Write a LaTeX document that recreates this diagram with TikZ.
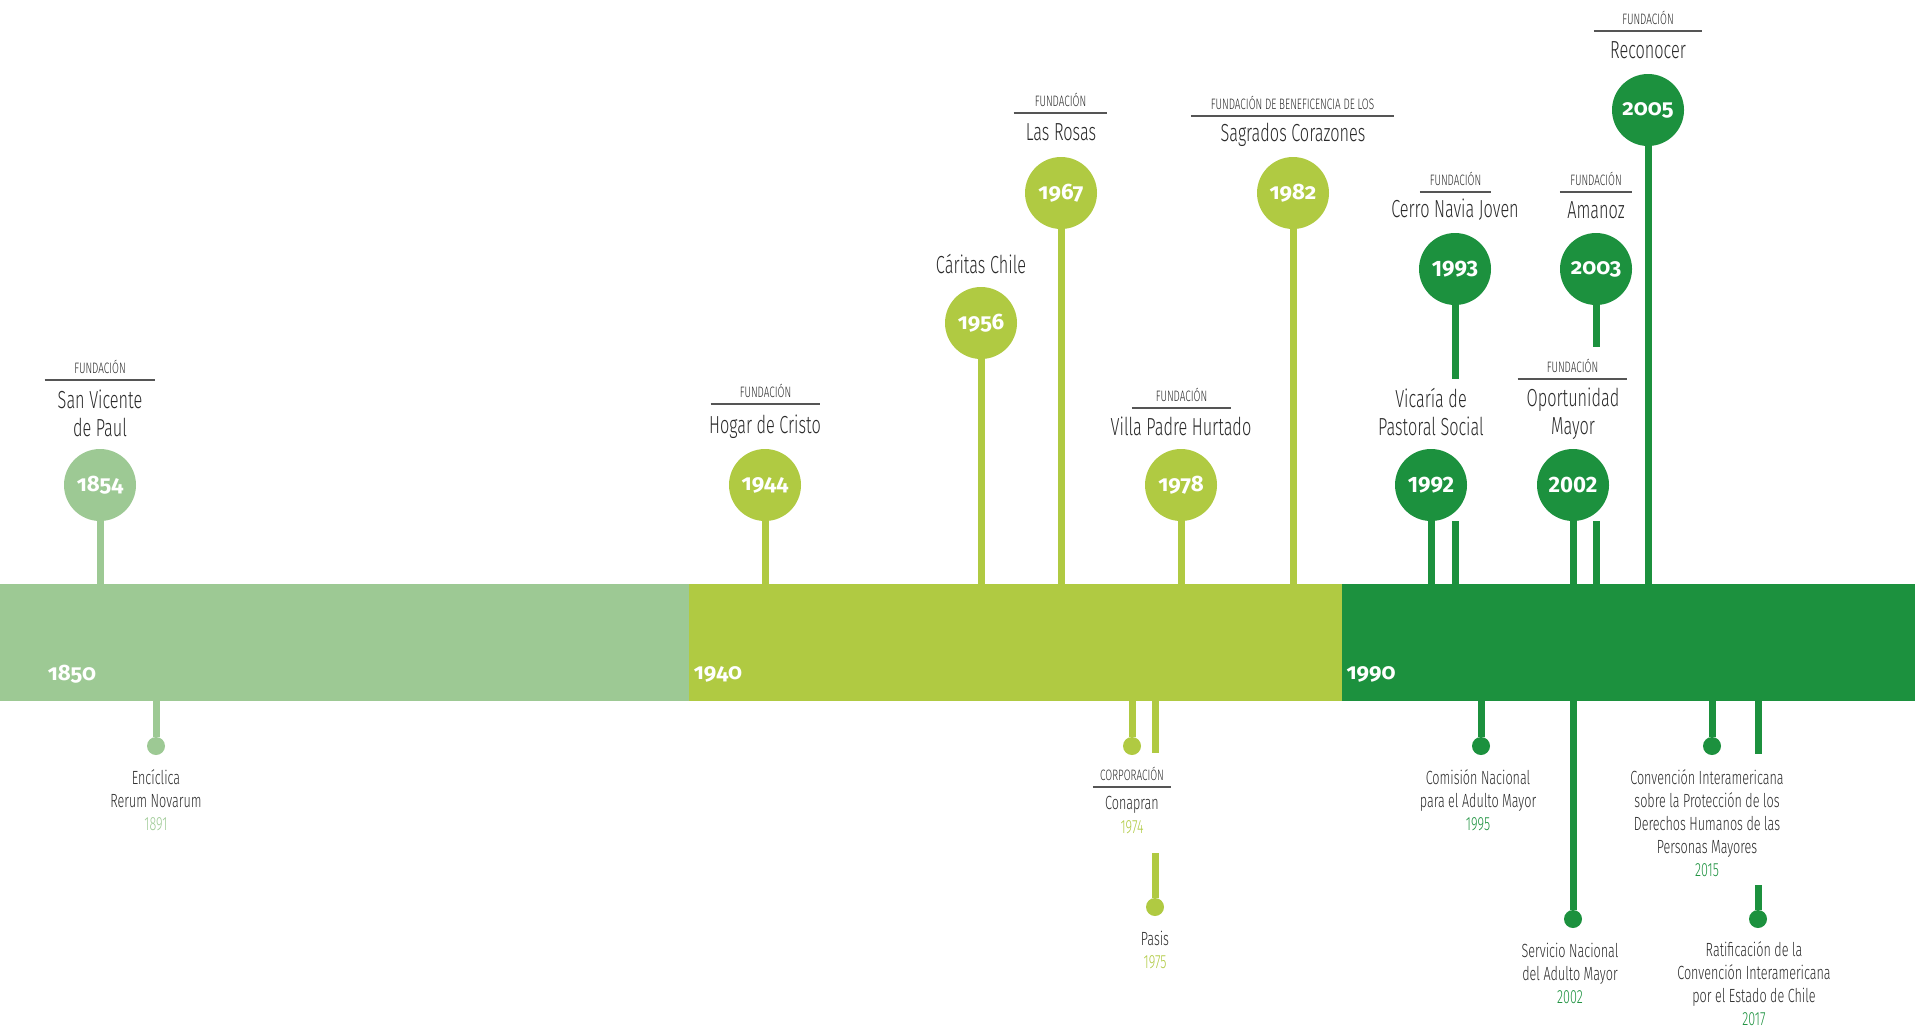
\documentclass[tikz,border=0pt]{standalone}
\usepackage{fontspec}
\usepackage{xcolor}
\setmainfont{Fira Sans}[UprightFont=* Light, BoldFont=* Bold, FakeStretch=0.66]
\newfontfamily\yrfont{Fira Sans Bold}[Numbers=OldStyle]
\newfontfamily\yrlfont{Fira Sans Bold}
\usetikzlibrary{calc}

\definecolor{cA}{HTML}{9DC994}
\definecolor{cB}{HTML}{B0CA42}
\definecolor{cC}{HTML}{1C913E}
\definecolor{ink}{HTML}{2A2A2A}
\definecolor{rulec}{HTML}{555555}

\begin{document}
\begin{tikzpicture}[x=0.75pt,y=-0.75pt]
    \tikzstyle{disc}=[circle,minimum size=54pt,inner sep=0,text=white,font=\yrfont\fontsize{16.7}{16.7}\selectfont]
    \tikzstyle{discl}=[disc,font=\yrlfont\fontsize{16.7}{16.7}\selectfont]
    \tikzstyle{era}=[inner sep=0,text=white,font=\yrfont\fontsize{16.7}{16.7}\selectfont]
    \tikzstyle{stem}=[line width=5.25pt]
    \tikzstyle{dot}=[circle,minimum size=13.5pt,inner sep=0]
    \tikzstyle{kick}=[anchor=south,inner xsep=0,inner ysep=4.5pt,text depth=0pt,text=ink,font=\fontsize{11.3}{12}\selectfont]
    \tikzstyle{rule}=[draw=rulec,line width=1.1pt]
    \tikzstyle{ttl}=[inner sep=0,align=center,text=ink,font=\fontsize{18.5}{21}\selectfont]
    \tikzstyle{note}=[inner sep=0,align=center,text=ink,font=\fontsize{14.3}{17.3}\selectfont]

    \useasboundingbox (0,0) rectangle (1915,1028);

    % band
    \fill[cA] (0,584) rectangle (689,701);
    \fill[cB] (689,584) rectangle (1342,701);
    \fill[cC] (1342,584) rectangle (1915,701);
    \coordinate (bt) at (0,584);
    \coordinate (bb) at (0,701);

    \node[era] (e1850) at (72,674) {1850};
    \node[era] (e1940) at (718,674) {1940};
    \node[era] (e1990) at (1371,674) {1990};

    % above the band
    \node[disc,fill=cA] (y1854) at (100,485) {1854};
    \node[disc,fill=cB] (y1944) at (765,485) {1944};
    \node[disc,fill=cB] (y1956) at (981,323) {1956};
    \node[disc,fill=cB] (y1967) at (1061,193) {1967};
    \node[disc,fill=cB] (y1978) at (1181,485) {1978};
    \node[disc,fill=cB] (y1982) at (1293,193) {1982};
    \node[discl,fill=cC] (y1993) at (1455,269) {1993};
    \node[discl,fill=cC] (y1992) at (1431,485) {1992};
    \node[discl,fill=cC] (y2002) at (1573,485) {2002};
    \node[disc,fill=cC] (y2003) at (1596,269) {2003};
    \node[disc,fill=cC] (y2005) at (1648,110) {2005};

    \draw[stem,cA] (y1854) -- (y1854 |- bt);
    \draw[stem,cB] (y1944) -- (y1944 |- bt);
    \draw[stem,cB] (y1956) -- (y1956 |- bt);
    \draw[stem,cB] (y1967) -- (y1967 |- bt);
    \draw[stem,cB] (y1978) -- (y1978 |- bt);
    \draw[stem,cB] (y1982) -- (y1982 |- bt);
    \draw[stem,cC] (y1992) -- (y1992 |- bt);
    \draw[stem,cC] (y2002) -- (y2002 |- bt);
    \draw[stem,cC] (y2005) -- (y2005 |- bt);
    \coordinate (g1993a) at (1455,379);
    \coordinate (g1993b) at (1455,521);
    \draw[stem,cC] (y1993) -- (g1993a);
    \draw[stem,cC] (g1993b) -- (g1993b |- bt);
    \coordinate (g2003a) at (1596,347);
    \coordinate (g2003b) at (1596,521);
    \draw[stem,cC] (y2003) -- (g2003a);
    \draw[stem,cC] (g2003b) -- (g2003b |- bt);

    \node[kick,minimum width=82.5pt] (k1854) at (100,380) {FUNDACIÓN};
    \node[kick,minimum width=82pt] (k1944) at (765.5,404) {FUNDACIÓN};
    \node[kick,minimum width=70pt] (k1967) at (1060.5,113) {FUNDACIÓN};
    \node[kick,minimum width=74pt] (k1978) at (1181.5,408) {FUNDACIÓN};
    \node[kick,minimum width=152pt] (k1982) at (1292.5,116) {FUNDACIÓN DE BENEFICENCIA DE LOS};
    \node[kick,minimum width=53pt] (k1993) at (1455.5,192) {FUNDACIÓN};
    \node[kick,minimum width=82pt] (k2002) at (1572.5,379) {FUNDACIÓN};
    \node[kick,minimum width=54pt] (k2003) at (1596,192) {FUNDACIÓN};
    \node[kick,minimum width=81pt] (k2005) at (1648,31) {FUNDACIÓN};
    \foreach \k in {k1854,k1944,k1967,k1978,k1982,k1993,k2002,k2003,k2005}
      \draw[rule] (\k.south west) -- (\k.south east);

    \node[ttl] (t1854) at (100,413) {San Vicente\\de Paul};
    \node[ttl] (t1944) at (765,427) {Hogar de Cristo};
    \node[ttl] (t1956) at (981,264) {Cáritas Chile};
    \node[ttl] (t1967) at (1061,132) {Las Rosas};
    \node[ttl] (t1978) at (1181,426) {Villa Padre Hurtado};
    \node[ttl] (t1982) at (1293,135) {Sagrados Corazones};
    \node[ttl] (t1993) at (1455,210) {Cerro Navia Joven};
    \node[ttl] (t1992) at (1431,412) {Vicaría de\\Pastoral Social};
    \node[ttl] (t2002) at (1573,414) {Oportunidad\\Mayor};
    \node[ttl] (t2003) at (1596,210) {Amanoz};
    \node[ttl] (t2005) at (1648,50) {Reconocer};

    % below the band
    \node[dot,fill=cA] (d1891) at (156,746) {};
    \node[dot,fill=cB] (d1974) at (1132,746) {};
    \node[dot,fill=cB] (d1975) at (1155,907) {};
    \node[dot,fill=cC] (d1995) at (1481,746) {};
    \node[dot,fill=cC] (d2002) at (1573,919) {};
    \node[dot,fill=cC] (d2015) at (1712,746) {};
    \node[dot,fill=cC] (d2017) at (1758,919) {};

    \draw[stem,cA] (d1891 |- bb) -- (d1891);
    \draw[stem,cB] (d1974 |- bb) -- (d1974);
    \draw[stem,cC] (d1995 |- bb) -- (d1995);
    \draw[stem,cC] (d2002 |- bb) -- (d2002);
    \draw[stem,cC] (d2015 |- bb) -- (d2015);
    \coordinate (g1975a) at (1155,753);
    \coordinate (g1975b) at (1155,853);
    \draw[stem,cB] (d1975 |- bb) -- (g1975a);
    \draw[stem,cB] (g1975b) -- (d1975);
    \coordinate (g2017a) at (1758,754);
    \coordinate (g2017b) at (1758,885);
    \draw[stem,cC] (d2017 |- bb) -- (g2017a);
    \draw[stem,cC] (g2017b) -- (d2017);

    \node[kick,minimum width=58.5pt] (k1974) at (1132,787) {CORPORACIÓN};
    \draw[rule] (k1974.south west) -- (k1974.south east);

    \node[note] (n1891) at (156,800) {Encíclica\\Rerum Novarum\\\textcolor{cA}{1891}};
    \node[note] (n1974) at (1132,815) {Conapran\\\textcolor{cB}{1974}};
    \node[note] (n1975) at (1155,950) {Pasis\\\textcolor{cB}{1975}};
    \node[note] (n1995) at (1478,800) {Comisión Nacional\\para el Adulto Mayor\\\textcolor{cC}{1995}};
    \node[note] (n2002) at (1570,973) {Servicio Nacional\\del Adulto Mayor\\\textcolor{cC}{2002}};
    \node[note] (n2015) at (1707,823) {Convención Interamericana\\sobre la Protección de los\\Derechos Humanos de las\\Personas Mayores\\\textcolor{cC}{2015}};
    \node[note] (n2017) at (1754,984) {Ratificación de la\\Convención Interamericana\\por el Estado de Chile\\\textcolor{cC}{2017}};
\end{tikzpicture}
\end{document}
